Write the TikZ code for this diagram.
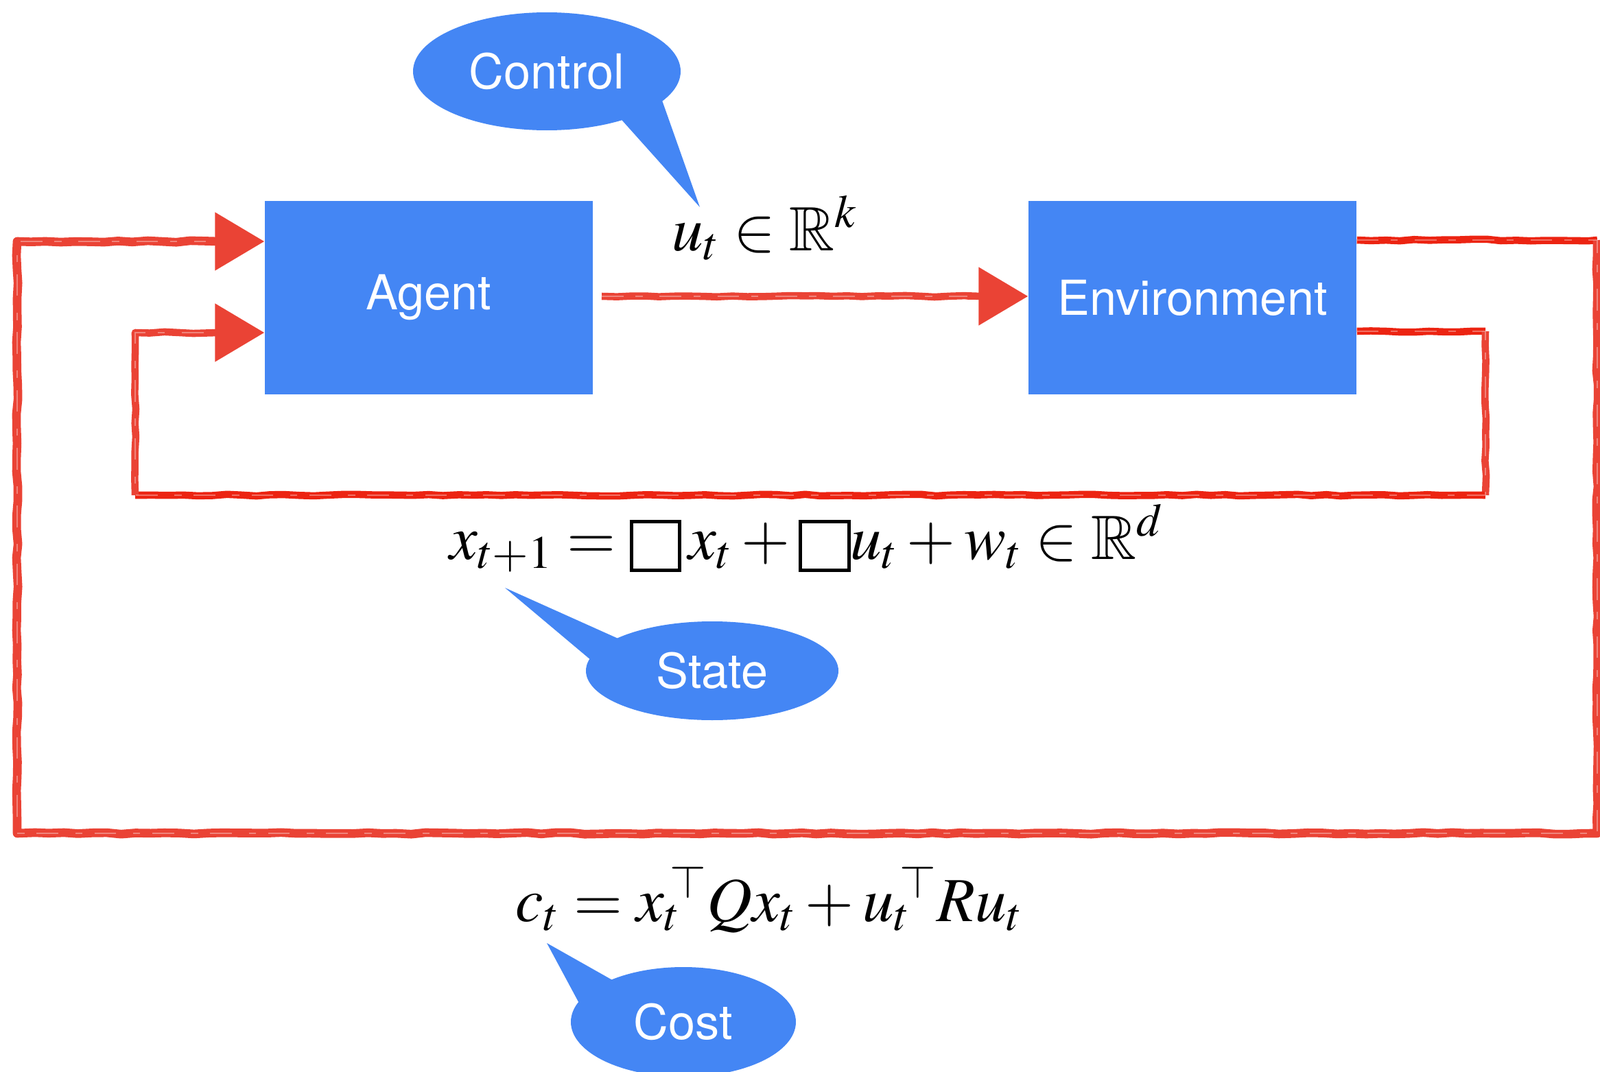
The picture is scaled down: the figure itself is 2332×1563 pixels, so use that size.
\documentclass[tikz,border=0pt]{standalone}
\usepackage{amssymb}
\usepackage{mathptmx}
\usepackage[no-math]{fontspec}
\newfontfamily\hsans{TeX Gyre Heros}
\usetikzlibrary{arrows.meta,decorations.pathmorphing,shapes.geometric,calc}
\definecolor{gblue}{RGB}{68,134,244}
\definecolor{gred}{RGB}{234,67,53}
\definecolor{gredb}{RGB}{236,36,18}
\newcommand{\ebox}{\mathord{\raisebox{-0.15em}{\setlength{\fboxsep}{0pt}\setlength{\fboxrule}{1.4pt}\fbox{\rule{0pt}{0.72em}\hspace{0.72em}}}}}
\newcommand{\tp}{^{\mkern-4mu\top}}
\tikzset{
  blockbox/.style={fill=gblue, draw=none, minimum width=47.8mm, minimum height=28.2mm, inner sep=0pt, text=white, font=\hsans\fontsize{20}{24}\selectfont},
  bubble/.style={ellipse, fill=gblue, draw=none, inner sep=0pt, text=white, font=\hsans\fontsize{20}{24}\selectfont},
  mathlbl/.style={inner sep=0pt, anchor=base west, font=\fontsize{26}{30}\selectfont},
  crayon/.style={draw=#1, line width=3pt, line join=round, line cap=butt, decorate, decoration={random steps, segment length=6pt, amplitude=0.35pt}},
  crayon/.default=gred,
  streak/.style={draw=white, opacity=0.35, line width=0.5pt, dash pattern=on 9pt off 5pt on 3pt off 7pt},
  redtip/.style={draw=gred, line width=3pt, -{Triangle[length=20.5pt, width=23.5pt]}},
}
\begin{document}
\begin{tikzpicture}[x=0.1mm, y=-0.1mm]
\useasboundingbox (0,0) rectangle (2332,1563);

% blocks
\node[blockbox] (agent) at (625,434) {Agent};
\node[blockbox] (env) at (1738,434) {Environment};

% helper y-levels
\coordinate (y350) at (0,350);
\coordinate (y352) at (0,352);
\coordinate (y432) at (0,432);
\coordinate (y483) at (0,483);
\coordinate (y485) at (0,485);

% agent -> environment
\coordinate (ustart) at (877,432);
\coordinate (ubase) at (1430,432);
\draw[crayon] (ustart) -- (ubase);
\draw[streak] (ustart) -- (ubase);
\draw[redtip] (1410,432) -- (env.west |- y432);

% outer loop (cost)
\coordinate (o1) at (2328,350);
\coordinate (o2) at (2328,1215);
\coordinate (o3) at (25,1215);
\coordinate (o4) at (25,352);
\coordinate (o5) at (318,352);
\draw[crayon=gredb] (env.east |- y350) -- (o1);
\draw[crayon, line width=3.6pt] (o1) -- (o2) -- (o3) -- (o4) -- (o5);
\draw[streak] (env.east |- y350) -- (o1) -- (o2) -- (o3) -- (o4) -- (o5);
\draw[redtip] (300,352) -- (agent.west |- y352);

% inner loop (state)
\coordinate (i1) at (2165,483);
\coordinate (i2) at (2165,722);
\coordinate (i3) at (197,722);
\coordinate (i4) at (197,485);
\coordinate (i5) at (318,485);
\draw[crayon=gredb] (env.east |- y483) -- (i1);
\draw[crayon] (i1) -- (i2);
\draw[crayon=gredb] (i2) -- (i3);
\draw[crayon] (i3) -- (i4) -- (i5);
\draw[streak] (env.east |- y483) -- (i1) -- (i2) -- (i3) -- (i4) -- (i5);
\draw[redtip] (300,485) -- (agent.west |- y485);

% math labels
\node[mathlbl] (ulbl) at (979,365) {$u_t \in \mathbb{R}^k$};
\node[mathlbl] (xlbl) at (655,815) {$x_{t+1} = \ebox\, x_t + \ebox u_t + w_t \in \mathbb{R}^d$};
\node[mathlbl] (clbl) at (751,1343) {$c_t = {x_t}\tp Q x_t + {u_t}\tp R u_t$};

% callout bubbles
\coordinate (ctip) at (1020,302);
\coordinate (stip) at (736,857);
\coordinate (ktip) at (797,1375);
\fill[gblue] (900,168) -- (ctip) -- (962,138) -- cycle;
\fill[gblue] (912,936) -- (stip) -- (868,968) -- cycle;
\fill[gblue] (905,1436) -- (ktip) -- (848,1470) -- cycle;
\node[bubble, minimum width=39mm, minimum height=17.2mm] (control) at (797,104) {Control};
\node[bubble, minimum width=36.8mm, minimum height=14.4mm] (state) at (1038,978) {State};
\node[bubble, minimum width=32.8mm, minimum height=16mm] (cost) at (996,1490) {Cost};
\end{tikzpicture}
\end{document}
